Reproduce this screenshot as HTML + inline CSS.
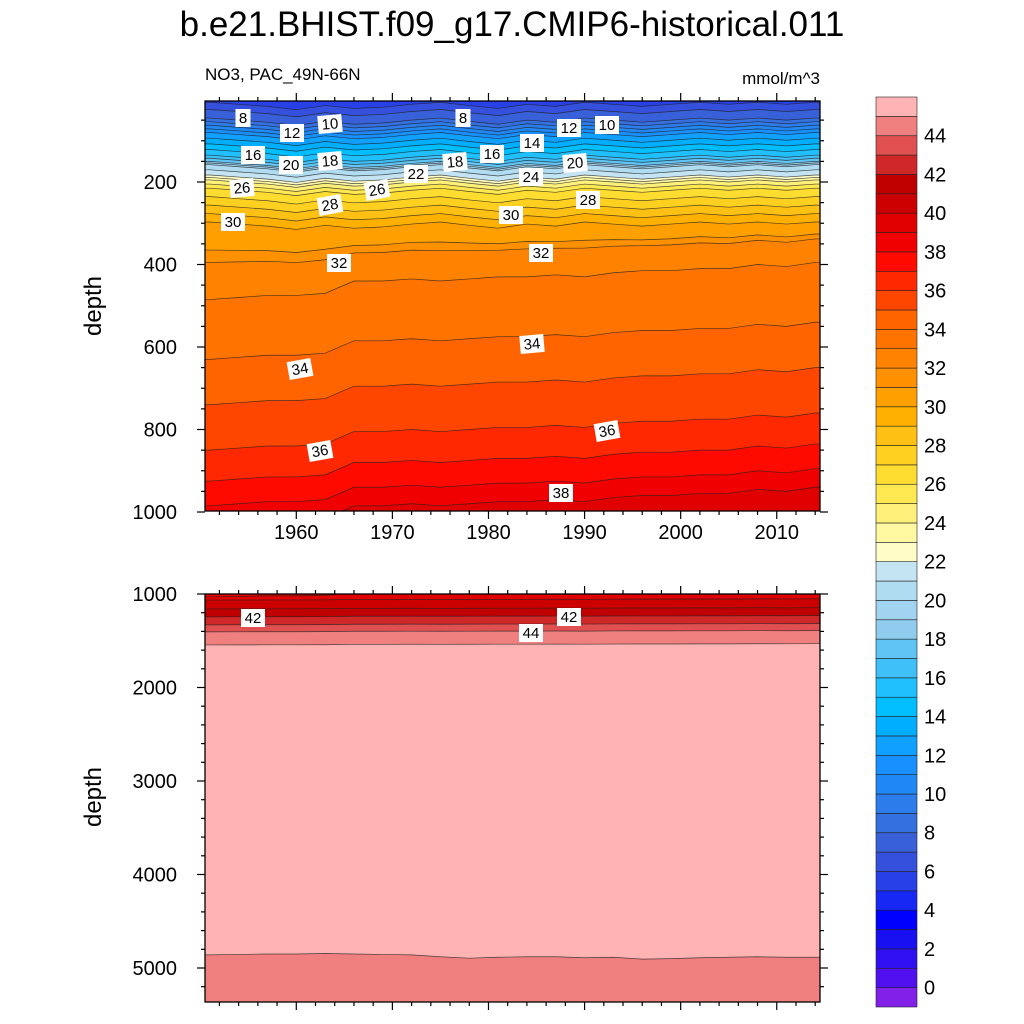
<!DOCTYPE html>
<html><head><meta charset="utf-8"><style>
html,body{margin:0;padding:0;background:#fff;width:1024px;height:1024px;overflow:hidden}
svg text{font-family:"Liberation Sans",sans-serif;fill:#000}
</style></head><body>
<svg id="chart" width="1024" height="1024" viewBox="0 0 1024 1024" xmlns="http://www.w3.org/2000/svg">
<text x="512" y="36" font-size="35" text-anchor="middle">b.e21.BHIST.f09_g17.CMIP6-historical.011</text>
<text x="205" y="80" font-size="17">NO3, PAC_49N-66N</text>
<text x="820" y="84" font-size="17" text-anchor="end">mmol/m^3</text>
<text transform="translate(101,306) rotate(-90)" font-size="24" text-anchor="middle">depth</text>
<text transform="translate(101,797) rotate(-90)" font-size="24" text-anchor="middle">depth</text>
<defs>
<clipPath id="clipTop"><rect x="205" y="101" width="615" height="410"/></clipPath>
<clipPath id="clipBot"><rect x="205" y="594" width="615" height="408"/></clipPath>
</defs>
<g id="topPanel" clip-path="url(#clipTop)"></g>
<g id="botPanel" clip-path="url(#clipBot)"></g>
<g id="axes"></g>
<g id="labels"></g>
<g id="cbar"></g>
</svg>
<script>
// ---- data ----
const years = [1951,1954,1957,1960,1963,1966,1969,1972,1975,1978,1981,1984,1987,1990,1993,1996,1999,2002,2005,2008,2011,2014];
const profileDepth = [0,20,45,80,135,150,158,183,195,215,297,365,395,485,630,740,850,925,985,1030,1065,1160,1245,1330,1405,1545];
const profileValue = [5.6,6.8,8,12,16,18,20,22,24,26,30,31,32,33,34,35,36,37,38,39,40,41,42,43,44,45];
const shallowShift = [0,5,10,18,8,15,12,5,0,8,15,5,10,0,5,10,5,0,5,0,5,0];
const deepShift = [0,-5,-10,-10,-15,-45,-45,-50,-45,-50,-55,-55,-60,-55,-65,-70,-70,-75,-75,-85,-80,-90];
const bottomBoundary = [4860,4855,4850,4850,4845,4850,4855,4860,4880,4895,4885,4880,4880,4890,4885,4905,4900,4890,4885,4880,4885,4885];
const levels = [];for(let l=0;l<=45;l++)levels.push(l);
const bandColors = ["#8020E8","#5010F0","#3010F0","#1810F0","#0000FF","#1828F4","#2840E8","#3450DC","#3860D8","#3470E0","#2C7CEC","#2088F4","#1890FF","#10A0FF","#00AEFF","#00BEFF","#20C0FF","#40C0F8","#60C4F4","#90CCEE","#A0D4F0","#B0DCF2","#C4E4F4","#FFFCC8","#FFF8A0","#FFF07A","#FFE850","#FFDC30","#FFD020","#FFC014","#FFB000","#FFA000","#FF9000","#FF8200","#FF7400","#FF6400","#FF4600","#FF2800","#FF0A00","#F00000","#E00000","#CC0000","#C00000","#D02828","#E05050","#F08080","#FFB3B3"];
const cbarLabels = [0,2,4,6,8,10,12,14,16,18,20,22,24,26,28,30,32,34,36,38,40,42,44];
const contourLabels = [["8",243,118,0],["12",292,133,0],["10",330,124,-5],["8",463,118,0],["12",569,128,0],["10",607,125,0],["16",253,155,0],["20",291,165,0],["18",330,161,-5],["22",416,174,0],["18",455,162,-5],["16",492,154,0],["14",532,143,0],["24",531,177,0],["20",575,163,-5],["26",242,188,-5],["28",330,205,-10],["26",377,190,-10],["30",233,222,0],["30",511,215,0],["28",588,200,0],["32",339,263,0],["32",541,253,0],["34",300,369,-10],["34",532,344,-5],["36",320,451,-10],["36",607,431,-10],["38",561,493,0],["42",253,618,0],["42",569,617,0],["44",531,633,0]];
// ---- scales ----
const NS="http://www.w3.org/2000/svg";
const X0=205,X1=820,Y0=1950.5,Y1=2014.5;
const xs=y=>X0+(y-Y0)/(Y1-Y0)*(X1-X0);
const ysTop=d=>99.5+d*0.4125;
const ysBot=d=>594+(d-1000)*0.0935;
function mk(tag,attrs,parent){const e=document.createElementNS(NS,tag);for(const k in attrs)e.setAttribute(k,attrs[k]);parent.appendChild(e);return e;}
function baseDepth(l){
  if(l<=profileValue[0])return -50+l;
  for(let i=1;i<profileValue.length;i++){if(l<=profileValue[i]){const t=(l-profileValue[i-1])/(profileValue[i]-profileValue[i-1]);return profileDepth[i-1]+t*(profileDepth[i]-profileDepth[i-1]);}}
  return 9999;
}
function isoDepth(l,c){
  const d0=baseDepth(l);
  let s;
  if(d0<300)s=shallowShift[c];else if(d0<450){const t=(d0-300)/150;s=shallowShift[c]*(1-t)+deepShift[c]*t;}
  else if(d0<1050)s=deepShift[c];else s=deepShift[c]*0.15;
  return Math.max(d0+s,d0<=0?d0:1);
}
const topG=document.getElementById('topPanel'),botG=document.getElementById('botPanel');
function drawPanel(g,ys,dmin,dmax){
  const bg=mk('rect',{x:X0,y:ys(dmin),width:X1-X0,height:ys(dmax)-ys(dmin),fill:bandColors[0]},g);
  
  
  levels.forEach((l,li)=>{
    const pts=years.map((yr,c)=>[xs(yr),ys(isoDepth(l,c))]);
    let d='M'+(X0-5)+','+pts[0][1];pts.forEach(p=>d+=' L'+p[0]+','+p[1]);
    d+=' L'+(X1+5)+','+pts[pts.length-1][1]+' L'+(X1+5)+','+(ys(dmax)+5)+' L'+(X0-5)+','+(ys(dmax)+5)+'Z';
    const band=mk('path',{d:d,fill:bandColors[li+1]},g);
    
    
  });
  levels.forEach(l=>{
    const pts=years.map((yr,c)=>[xs(yr),ys(isoDepth(l,c))]);
    let d='M'+(X0-5)+','+pts[0][1];pts.forEach(p=>d+=' L'+p[0]+','+p[1]);d+=' L'+(X1+5)+','+pts[pts.length-1][1];
    const ln=mk('path',{d:d,fill:'none',stroke:'#222','stroke-width':0.7,'stroke-opacity':0.8},g);
    
    
  });
}
drawPanel(topG,ysTop,0,1000);
drawPanel(botG,ysBot,1000,5400);
// bottom boundary band (value drops below 45)
{const pts=years.map((yr,c)=>[xs(yr),ysBot(bottomBoundary[c])]);
 let d='M'+(X0-5)+','+pts[0][1];pts.forEach(p=>d+=' L'+p[0]+','+p[1]);
 let ln=d+' L'+(X1+5)+','+pts[pts.length-1][1];
 d=ln+' L'+(X1+5)+',1010 L'+(X0-5)+',1010Z';
 const b=mk('path',{d:d,fill:bandColors[45]},botG);
 
 
 const l=mk('path',{d:ln,fill:'none',stroke:'#222','stroke-width':0.7,'stroke-opacity':0.8},botG);
 
 }
// axes
const ax=document.getElementById('axes');
function frame(y0,y1,name){const r=mk('rect',{x:X0,y:y0,width:X1-X0,height:y1-y0,fill:'none',stroke:'#000','stroke-width':1.3},ax);}
frame(101,511,'upper-frame');frame(594,1002,'lower-frame');
for(let yr=1952;yr<=2014;yr+=2){const x=xs(yr);const maj=yr%10===0;const L=maj?8:4;
  [[101,-1],[511,1],[594,-1],[1002,1]].forEach(([y,s])=>{mk('line',{x1:x,x2:x,y1:y,y2:y+s*L,stroke:'#000','stroke-width':1.2},ax);});
  if(maj){const t=mk('text',{x:x,y:539,'font-size':20,'text-anchor':'middle'},ax);t.textContent=yr;}}
for(let d=50;d<=1000;d+=50){const y=ysTop(d);if(y<101)continue;const maj=d%200===0;const L=maj?8:4;
  mk('line',{x1:X0,x2:X0-L,y1:y,y2:y,stroke:'#000','stroke-width':1.2},ax);mk('line',{x1:X1,x2:X1+L,y1:y,y2:y,stroke:'#000','stroke-width':1.2},ax);
  if(maj){const t=mk('text',{x:177,y:y+7,'font-size':20,'text-anchor':'end'},ax);t.textContent=d;}}
for(let d=1000;d<=5300;d+=200){const y=ysBot(d);const maj=d%1000===0;const L=maj?8:4;
  mk('line',{x1:X0,x2:X0-L,y1:y,y2:y,stroke:'#000','stroke-width':1.2},ax);mk('line',{x1:X1,x2:X1+L,y1:y,y2:y,stroke:'#000','stroke-width':1.2},ax);
  if(maj){const t=mk('text',{x:177,y:y+7,'font-size':20,'text-anchor':'end'},ax);t.textContent=d;}}
// contour labels
const lg=document.getElementById('labels');
contourLabels.forEach(([s,x,y,r])=>{const g=mk('g',{transform:'translate('+x+','+y+') rotate('+r+')'},lg);
  
  
  const w=s.length*9+6;mk('rect',{x:-w/2,y:-9,width:w,height:18,fill:'#fff'},g);
  const t=mk('text',{x:0,y:5,'font-size':15,'text-anchor':'middle'},g);t.textContent=s;});
// colorbar
const cb=document.getElementById('cbar');
const CB0=97,CB1=1007,n=bandColors.length,bh=(CB1-CB0)/n;
bandColors.forEach((c,i)=>{const r=mk('rect',{x:876,y:CB1-(i+1)*bh,width:41,height:bh,fill:c,stroke:'#222','stroke-width':0.6},cb);
  
  });
cbarLabels.forEach(v=>{const y=CB1-(v+1)*bh;const t=mk('text',{x:924,y:y+7,'font-size':20},cb);t.textContent=v;
  
  });
</script>
</body></html>
